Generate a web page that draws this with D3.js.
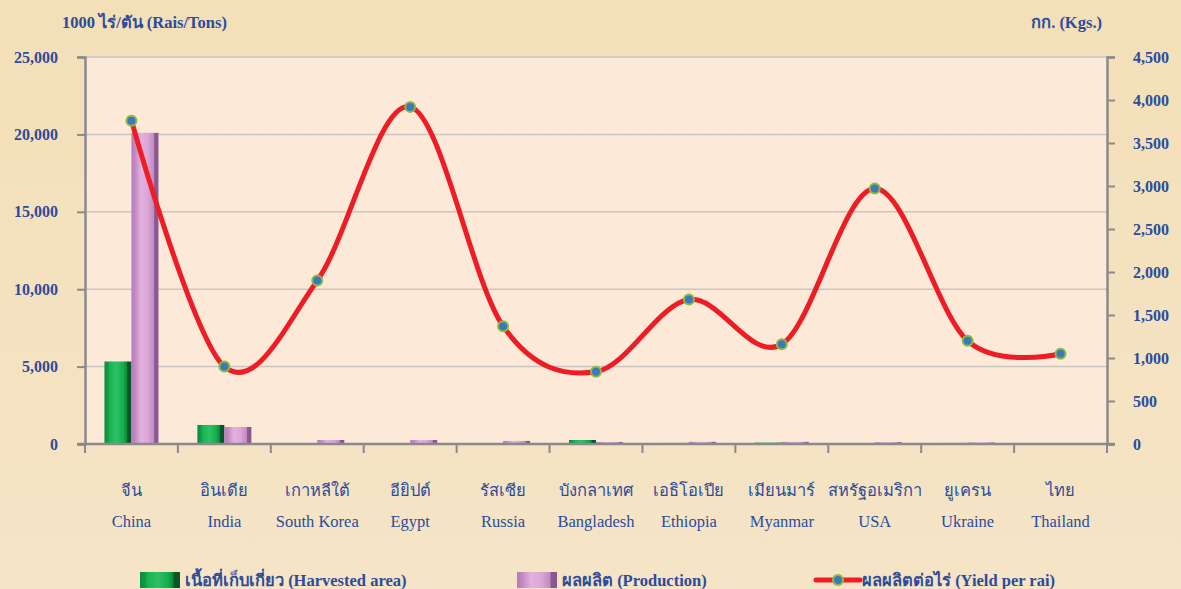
<!DOCTYPE html>
<html>
<head>
<meta charset="utf-8">
<script src="https://cdn.jsdelivr.net/npm/d3@7"></script>
<style>
  body { margin: 0; background: #f4e1bd; }
  svg { display: block; }
  text { font-family: "Liberation Serif", "Times New Roman", serif; fill: #2c4c9c; }
</style>
</head>
<body>
<script>
const width = 1181;
const height = 589;

const countriesTh = ["จีน", "อินเดีย", "เกาหลีใต้", "อียิปต์", "รัสเซีย", "บังกลาเทศ", "เอธิโอเปีย", "เมียนมาร์", "สหรัฐอเมริกา", "ยูเครน", "ไทย"];
const countriesEn = ["China", "India", "South Korea", "Egypt", "Russia", "Bangladesh", "Ethiopia", "Myanmar", "USA", "Ukraine", "Thailand"];
const harvested = [5330, 1230, 60, 15, 60, 260, 70, 90, 10, 70, 20];
const production = [20100, 1100, 260, 260, 200, 130, 140, 140, 120, 100, 30];
const yieldPerRai = [3760, 900, 1900, 3920, 1370, 840, 1680, 1160, 2970, 1200, 1050];
const leftTicks = [0, 5000, 10000, 15000, 20000, 25000];
const rightTicks = [0, 500, 1000, 1500, 2000, 2500, 3000, 3500, 4000, 4500];

const margin = { top: 57, right: 74, bottom: 145, left: 85 };
const plotW = width - margin.left - margin.right;
const plotH = height - margin.top - margin.bottom;

const svg = d3.select("body").append("svg")
  .attr("width", width)
  .attr("height", height);

const defs = svg.append("defs");

const bgGrad = defs.append("linearGradient").attr("id", "bg").attr("x1", 0).attr("y1", 0).attr("x2", 0).attr("y2", 1);
bgGrad.append("stop").attr("offset", "0%").attr("stop-color", "#f3dfb8");
bgGrad.append("stop").attr("offset", "100%").attr("stop-color", "#f5e4c6");

function barGradient(id, stops) {
  const g = defs.append("linearGradient").attr("id", id).attr("x1", 0).attr("y1", 0).attr("x2", 1).attr("y2", 0);
  stops.forEach(s => g.append("stop").attr("offset", s[0]).attr("stop-color", s[1]));
}
barGradient("green", [["0%", "#0b8a3c"], ["12%", "#109a45"], ["20%", "#17b553"], ["45%", "#2cc065"], ["70%", "#14ad4c"], ["82%", "#0c8a3b"], ["86%", "#08552a"], ["100%", "#08552a"]]);
barGradient("pink", [["0%", "#b57ab8"], ["15%", "#c48bc4"], ["35%", "#e2b2dd"], ["60%", "#dca6d7"], ["82%", "#c08bc2"], ["86%", "#8a5790"], ["100%", "#8a5790"]]);

svg.append("rect").attr("width", width).attr("height", height).attr("fill", "url(#bg)");

const g = svg.append("g").attr("transform", `translate(${margin.left},${margin.top})`);

const x = d3.scaleBand().domain(countriesEn).range([0, plotW]);
const yL = d3.scaleLinear().domain([0, 25000]).range([plotH, 0]);
const yR = d3.scaleLinear().domain([0, 4500]).range([plotH, 0]);

g.append("rect").attr("width", plotW).attr("height", plotH).attr("fill", "#fce9d8");

// gridlines
g.append("g")
  .selectAll("line")
  .data(leftTicks.slice(1))
  .join("line")
  .attr("x1", 0).attr("x2", plotW)
  .attr("y1", d => yL(d)).attr("y2", d => yL(d))
  .attr("stroke", "#c9c6c2").attr("stroke-width", 1.5);

// bars
const barW = 27;
g.append("g")
  .selectAll("rect")
  .data(harvested)
  .join("rect")
  .attr("x", (d, i) => x(countriesEn[i]) + x.bandwidth() / 2 - barW)
  .attr("y", d => yL(d))
  .attr("width", barW)
  .attr("height", d => plotH - yL(d))
  .attr("fill", "url(#green)");

g.append("g")
  .selectAll("rect")
  .data(production)
  .join("rect")
  .attr("x", (d, i) => x(countriesEn[i]) + x.bandwidth() / 2)
  .attr("y", d => yL(d))
  .attr("width", barW)
  .attr("height", d => plotH - yL(d))
  .attr("fill", "url(#pink)");

// axes
const axisColor = "#8a8a8a";
const leftAxis = g.append("g")
  .call(d3.axisLeft(yL).tickValues(leftTicks).tickSize(8).tickPadding(19).tickFormat(d3.format(",")));
const rightAxis = g.append("g")
  .attr("transform", `translate(${plotW},0)`)
  .call(d3.axisRight(yR).tickValues(rightTicks).tickSize(8).tickPadding(18).tickFormat(d3.format(",")));
[leftAxis, rightAxis].forEach(a => {
  a.select(".domain").attr("stroke", axisColor).attr("stroke-width", 2.5);
  a.selectAll(".tick line").attr("stroke", axisColor).attr("stroke-width", 2);
  a.selectAll(".tick text")
    .attr("font-size", 16).attr("font-weight", "bold")
    .attr("font-family", "Liberation Serif, serif").attr("fill", "#2c4c9c");
});

const bottomAxis = g.append("g").attr("transform", `translate(0,${plotH})`);
bottomAxis.append("line").attr("x1", -8).attr("x2", plotW + 8).attr("stroke", axisColor).attr("stroke-width", 2.5);
bottomAxis.selectAll("line.tk")
  .data(d3.range(countriesEn.length + 1))
  .join("line")
  .attr("class", "tk")
  .attr("x1", i => i * x.step()).attr("x2", i => i * x.step())
  .attr("y1", 0).attr("y2", 9)
  .attr("stroke", axisColor).attr("stroke-width", 2);

bottomAxis.selectAll("text.th")
  .data(countriesTh)
  .join("text")
  .attr("class", "th")
  .attr("x", (d, i) => x(countriesEn[i]) + x.bandwidth() / 2)
  .attr("y", 52)
  .attr("text-anchor", "middle")
  .attr("font-size", 16.5)
  .text(d => d);

bottomAxis.selectAll("text.en")
  .data(countriesEn)
  .join("text")
  .attr("class", "en")
  .attr("x", (d, i) => x(d) + x.bandwidth() / 2)
  .attr("y", 83)
  .attr("text-anchor", "middle")
  .attr("font-size", 16.5)
  .text(d => d);

// yield line
const line = d3.line()
  .x((d, i) => x(countriesEn[i]) + x.bandwidth() / 2)
  .y(d => yR(d))
  .curve(d3.curveCatmullRom.alpha(0));

g.append("path")
  .datum(yieldPerRai)
  .attr("d", line)
  .attr("fill", "none")
  .attr("stroke", "#ee1c25")
  .attr("stroke-width", 5);

g.append("g")
  .selectAll("circle")
  .data(yieldPerRai)
  .join("circle")
  .attr("cx", (d, i) => x(countriesEn[i]) + x.bandwidth() / 2)
  .attr("cy", d => yR(d))
  .attr("r", 5)
  .attr("fill", "#3a78c0")
  .attr("stroke", "#8dbb3c")
  .attr("stroke-width", 2);

// axis titles
svg.append("text")
  .attr("x", 62).attr("y", 28)
  .attr("font-size", 16.5).attr("font-weight", "bold")
  .text("1000 ไร่/ตัน (Rais/Tons)");
svg.append("text")
  .attr("x", 1102).attr("y", 28)
  .attr("text-anchor", "end")
  .attr("font-size", 16.5).attr("font-weight", "bold")
  .text("กก. (Kgs.)");

// legend
const legY = 580;
const legend = svg.append("g");
legend.append("rect").attr("x", 140).attr("y", legY - 8).attr("width", 40).attr("height", 16).attr("fill", "url(#green)");
legend.append("text").attr("x", 185).attr("y", legY + 6).attr("font-size", 16.5).attr("font-weight", "bold")
  .text("เนื้อที่เก็บเกี่ยว  (Harvested area)");
legend.append("rect").attr("x", 517).attr("y", legY - 8).attr("width", 40).attr("height", 16).attr("fill", "url(#pink)");
legend.append("text").attr("x", 562).attr("y", legY + 6).attr("font-size", 16.5).attr("font-weight", "bold")
  .text("ผลผลิต (Production)");
legend.append("line").attr("x1", 816).attr("x2", 860).attr("y1", legY).attr("y2", legY)
  .attr("stroke", "#ee1c25").attr("stroke-width", 5).attr("stroke-linecap", "round");
legend.append("circle").attr("cx", 838).attr("cy", legY).attr("r", 5)
  .attr("fill", "#3a78c0").attr("stroke", "#8dbb3c").attr("stroke-width", 2);
legend.append("text").attr("x", 862).attr("y", legY + 6).attr("font-size", 16.5).attr("font-weight", "bold")
  .text("ผลผลิตต่อไร่  (Yield per rai)");
</script>
</body>
</html>
